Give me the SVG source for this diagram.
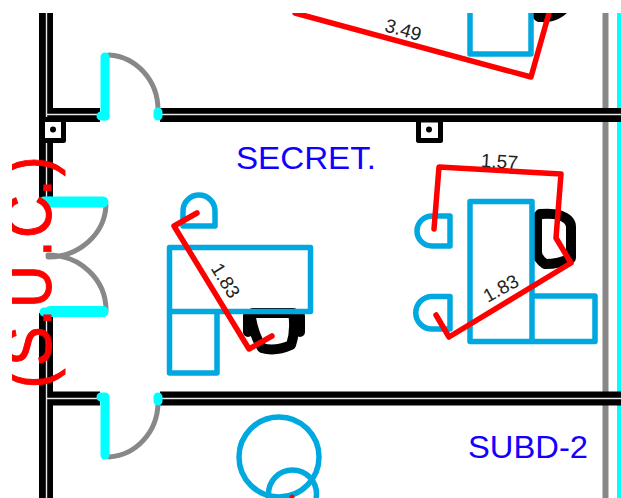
<svg xmlns="http://www.w3.org/2000/svg" width="621" height="498" viewBox="0 0 621 498">
<style>
.w{fill:none;stroke:#000;stroke-width:14}
.wi{fill:none;stroke:#e8e8e8;stroke-width:1.4}
.g{fill:none;stroke:#888;stroke-width:5;stroke-linecap:round}
.c{fill:none;stroke:#0ff;stroke-width:9;stroke-linecap:round}
.c2{fill:none;stroke:#0ff;stroke-width:11;stroke-linecap:round}
.b{fill:none;stroke:#00a8e0;stroke-width:5.500;stroke-linejoin:round}
.k{fill:none;stroke:#000;stroke-width:10;stroke-linejoin:round;stroke-linecap:round}
.r{fill:none;stroke:#f00;stroke-width:5.500;stroke-linejoin:round;stroke-linecap:round}
.d{font-family:"Liberation Sans",Arial,sans-serif;font-size:19px;fill:#222;text-anchor:middle}
.t{font-family:"Liberation Sans",Arial,sans-serif;font-size:31px;fill:#10f}
</style>
<defs><clipPath id="clip"><rect x="12" y="13" width="609" height="485"/></clipPath></defs>
<rect width="621" height="498" fill="#fff"/>
<g clip-path="url(#clip)">
<g id="building">
<path d="M605.500 13V498" fill="none" stroke="#888" stroke-width="6"/>
<path d="M619.500 13V498" fill="none" stroke="#0ff" stroke-width="5"/>
<path class="w" d="M46 13V200M46 313V498M40 115H100M160 115H621M40 398.500H100M160 398.500H621"/>
<path class="wi" d="M46.500 13V200M46.500 313V498M47 114.500H100M160 114.500H621M47 398.500H100M160 398.500H621"/>
</g>
<g id="pillar-1"><rect x="42.500" y="119.500" width="21" height="21" fill="#fff" stroke="#000" stroke-width="5" stroke-linejoin="round"/><circle cx="53" cy="129.500" r="3" fill="#000"/></g>
<g id="pillar-2"><rect x="418.500" y="120" width="22" height="20.500" fill="#fff" stroke="#000" stroke-width="5" stroke-linejoin="round"/><circle cx="429" cy="129.500" r="3" fill="#000"/></g>
<g id="door-top">
<path class="g" d="M109 55A52 55 0 0 1 158 110"/>
<path class="c" d="M105 57V116"/><path class="c" d="M101 116H105M158 112V116"/>
</g>
<g id="door-left">
<path class="g" d="M106 205A58 54 0 0 1 48 257M48 255A58 55 0 0 1 106 310"/>
<path class="c2" d="M50 202H103M50 311.500H103"/><path class="c" d="M44 201H50M44 312H50"/>
</g>
<g id="door-bottom">
<path class="g" d="M109 457A52 55 0 0 0 158 403"/>
<path class="c" d="M105 400V455"/><path class="c" d="M101 397H105M158 397V401"/>
</g>
<g id="desk-left">
<path class="k" d="M253 313H293Q296 330 291 345Q275 352 262 348Q254 335 251 318Z"/>
<path class="k" d="M248 316V332M300 316V332" stroke-width="6"/>
<rect class="b" x="169.500" y="247.500" width="141" height="64"/>
<path class="b" d="M169.500 311.500V373H217V311.500"/>
<path class="b" d="M183 226H215V211A16 16 0 0 0 183 211Z"/>
</g>
<g id="desk-right">
<path class="k" d="M540 214Q552 213 559 215Q571 219 571 227V258Q560 264 545 264Q537 258 537 252V218Z"/>
<rect class="b" x="470" y="201.500" width="62" height="140"/>
<path class="b" d="M532 296H595V341.500H532"/>
<path class="b" d="M450 216H432A15 15 0 0 0 432 246H450Z"/>
<path class="b" d="M450 296.500H432A16 16 0 0 0 432 329H450Z"/>
</g>
<g id="desk-top">
<path d="M531 13H567Q560 20 548 22H538Q533 20 531 13Z" fill="#000"/>
<path class="b" d="M470 13V54H531V13"/>
</g>
<g id="room-circles">
<circle class="b" cx="279" cy="457" r="40"/>
<circle class="b" cx="292.500" cy="494" r="24"/>
</g>
<g id="connectors">
<path class="r" d="M197 213L174 226L249 349L272 336"/>
<path class="r" d="M434 229L439 167L561 174L556 238L571 263L449 337L436 315"/>
<path class="r" d="M295 13L531 77L549 13"/>
<circle cx="292" cy="497" r="2.500" fill="#f00"/>
</g>
<g id="labels">
<text class="d" transform="translate(220 284) rotate(58)">1.83</text>
<text class="d" transform="translate(499 168) rotate(4)">1.57</text>
<text class="d" transform="translate(504 294) rotate(-29)">1.83</text>
<text class="d" transform="translate(401.500 36) rotate(16)">3.49</text>
<text class="t" x="236" y="169" textLength="140" lengthAdjust="spacingAndGlyphs">SECRET.</text>
<text class="t" x="468" y="458" textLength="120" lengthAdjust="spacingAndGlyphs">SUBD-2</text>
<text transform="translate(50.500 396) rotate(-90) scale(.9 1)" x="8.300 33.300 77.800 97.800 154.400 175.600 222.200 244.400" font-family="'Liberation Sans',Arial,sans-serif" font-size="66" fill="#f00" stroke="#f00" stroke-width="1">(S.U.C.)</text>
</g>
</g>
</svg>
